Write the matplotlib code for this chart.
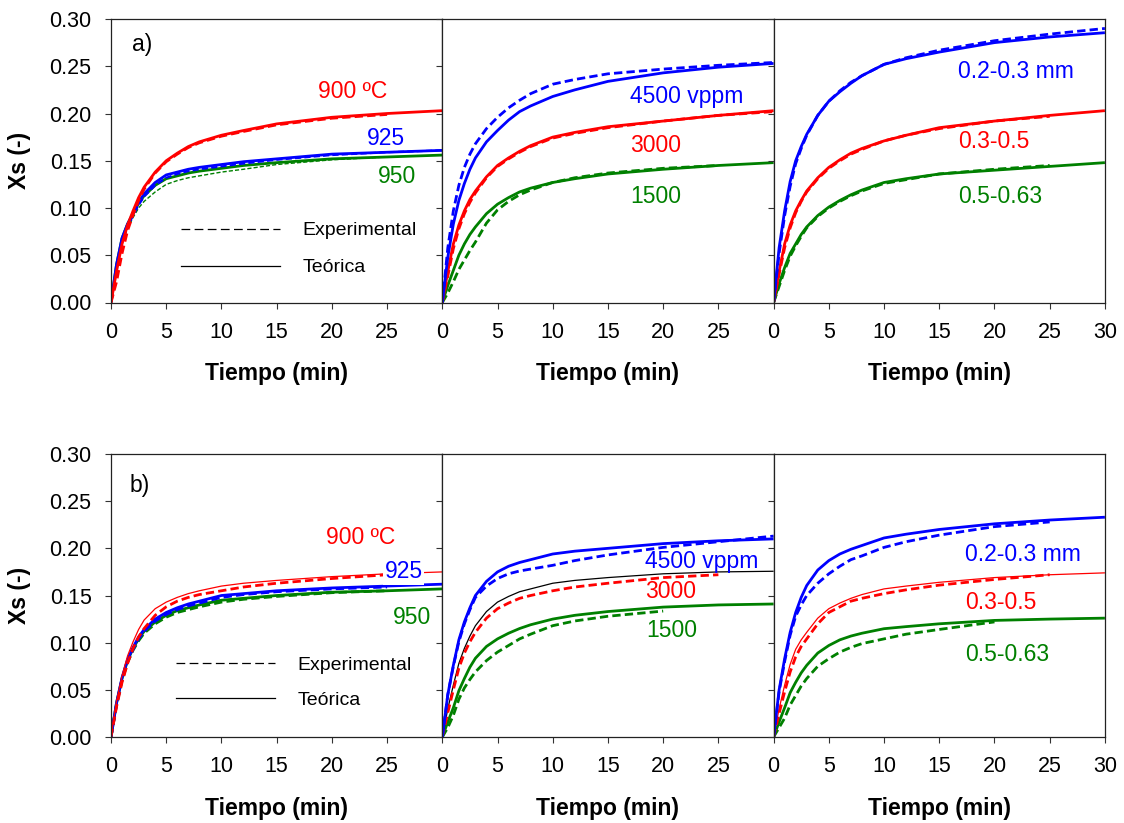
import numpy as np
import matplotlib
matplotlib.use("Agg")
import matplotlib.pyplot as plt
from matplotlib.lines import Line2D

plt.rcParams['font.family'] = ['Liberation Sans', 'DejaVu Sans']

nan = np.nan
tiempo = [0, 0.5, 1, 1.5, 2, 2.5, 3, 4, 5, 6, 7, 8, 10, 12, 15, 20, 25, 30]

# ---- a) temperatura
a_t900_teo = [0, .033, .062, .082, .097, .111, .122, .138, .150, .158, .165, .170, .177, .182, .189, .196, .200, .203]
a_t900_exp = [0, .022, .052, .076, .093, .108, .120, .137, .149, .157, .164, .169, .176, .181, .188, .195, .199, nan]
a_t925_teo = [0, .040, .068, .083, .094, .106, .115, .127, .135, .138, .141, .143, .146, .149, .152, .157, .159, .161]
a_t925_exp = [0, .035, .064, .080, .092, .103, .112, .124, .132, .136, .139, .141, .144, .147, .151, .156, .159, .161]
a_t950_teo = [0, .040, .068, .083, .094, .105, .113, .124, .131, .134, .137, .139, .142, .145, .148, .152, .154, .156]
a_t950_exp = [0, .036, .064, .078, .090, .100, .107, .117, .125, .129, .132, .134, .138, .141, .146, .151, .154, nan]

# ---- a) concentracion
a_c4500_teo = [0, .048, .083, .108, .126, .141, .153, .170, .182, .193, .202, .208, .218, .225, .234, .243, .249, .253]
a_c4500_exp = [0, .058, .097, .124, .143, .157, .168, .184, .196, .206, .214, .221, .231, .236, .242, .247, .251, .254]
a_c3000_teo = [0, .033, .062, .082, .097, .109, .118, .133, .145, .153, .160, .166, .175, .180, .186, .192, .198, .203]
a_c3000_exp = [0, .028, .057, .078, .094, .106, .116, .132, .144, .152, .159, .165, .174, .179, .185, .192, .198, .202]
a_c1500_teo = [0, .018, .034, .050, .062, .072, .080, .094, .104, .111, .117, .121, .127, .131, .136, .141, .145, .148]
a_c1500_exp = [0, .010, .022, .035, .045, .055, .064, .084, .098, .107, .114, .119, .127, .132, .137, .142, .145, nan]

# ---- a) tamano de particula
a_p02_teo = [0, .058, .097, .128, .150, .165, .178, .198, .213, .223, .232, .240, .252, .258, .265, .275, .281, .2855]
a_p02_exp = [0, .052, .092, .123, .147, .163, .177, .198, .213, .224, .233, .240, .252, .259, .267, .277, .284, .290]
a_p03_teo = [0, .033, .062, .082, .097, .108, .118, .132, .143, .151, .158, .163, .171, .177, .185, .192, .198, .203]
a_p03_exp = [0, .030, .058, .079, .095, .107, .117, .131, .142, .150, .157, .162, .171, .177, .184, .192, .197, nan]
a_p05_teo = [0, .020, .037, .052, .062, .072, .080, .092, .101, .108, .114, .119, .127, .131, .136, .140, .144, .148]
a_p05_exp = [0, .017, .034, .049, .060, .070, .079, .091, .100, .107, .113, .118, .126, .130, .136, .141, .145, nan]

# ---- b) temperatura
b_t900_teo = [0, .038, .065, .086, .101, .114, .124, .136, .143, .148, .152, .155, .160, .163, .166, .170, .173, .175]
b_t900_exp = [0, .032, .058, .078, .094, .106, .115, .129, .138, .144, .148, .151, .155, .159, .163, .168, .172, nan]
b_t925_teo = [0, .036, .063, .082, .095, .106, .114, .125, .132, .137, .141, .144, .150, .152, .155, .158, .160, .162]
b_t925_exp = [0, .034, .061, .080, .093, .104, .112, .123, .130, .135, .139, .142, .148, .151, .154, .157, .159, nan]
b_t950_teo = [0, .036, .062, .081, .094, .104, .112, .122, .129, .134, .137, .140, .145, .147, .150, .1535, .155, .157]
b_t950_exp = [0, .034, .060, .079, .092, .102, .110, .120, .127, .132, .135, .138, .143, .146, .149, .153, .155, nan]

# ---- b) concentracion
b_c4500_teo = [0, .045, .076, .103, .122, .137, .150, .165, .175, .181, .185, .188, .194, .197, .200, .205, .208, .210]
b_c4500_exp = [0, .045, .075, .101, .120, .135, .148, .160, .168, .173, .176, .178, .182, .187, .193, .201, .207, .213]
b_c3000_teo = [0, .030, .055, .078, .094, .107, .118, .133, .143, .149, .154, .157, .163, .166, .169, .173, .175, .1757]
b_c3000_exp = [0, .026, .050, .073, .089, .101, .111, .126, .136, .142, .147, .150, .155, .159, .163, .169, .172, nan]
b_c1500_teo = [0, .016, .031, .049, .062, .074, .0835, .096, .104, .110, .115, .119, .125, .129, .133, .1377, .140, .141]
b_c1500_exp = [0, .010, .023, .040, .052, .061, .069, .081, .090, .097, .104, .109, .118, .123, .128, .1335, nan, nan]

# ---- b) tamano de particula
b_p02_teo = [0, .050, .083, .111, .132, .148, .1606, .177, .187, .194, .199, .203, .211, .215, .220, .226, .230, .233]
b_p02_exp = [0, .048, .080, .108, .128, .140, .150, .163, .173, .181, .188, .192, .201, .207, .214, .223, .228, nan]
b_p03_teo = [0, .030, .055, .077, .093, .103, .111, .126, .136, .142, .147, .151, .157, .160, .164, .169, .172, .174]
b_p03_exp = [0, .025, .048, .069, .085, .096, .104, .120, .132, .138, .144, .147, .152, .156, .161, .167, .172, nan]
b_p05_teo = [0, .016, .031, .047, .058, .068, .076, .089, .097, .103, .107, .110, .1148, .117, .120, .1236, .125, .126]
b_p05_exp = [0, .010, .020, .034, .044, .054, .062, .075, .083, .090, .095, .099, .104, .109, .114, .122, nan, nan]

ROJO, AZUL, VERDE = '#ff0000', '#0000ff', '#008000'
DASH = (0, (3, 1.5))

W, H = 1124, 823
fig = plt.figure(figsize=(W / 100, H / 100), dpi=100)

x0, pw = 111, 331.3
filas = [(19, 302.5), (454, 737)]


def hacer_panel(fila, col):
    top, bot = filas[fila]
    ax = fig.add_axes([(x0 + col * pw) / W, (H - bot) / H, pw / W, (bot - top) / H])
    ax.set_xlim(0, 30)
    ax.set_ylim(0, 0.3)
    ax.set_xticks(range(0, 31 if col == 2 else 26, 5))
    ax.set_yticks(np.arange(0, 0.31, 0.05))
    ax.tick_params(direction='out', length=4, width=0.8, labelsize=15.5, pad=10, color='#333333')
    if col == 0:
        ax.set_yticklabels(['%.2f' % v for v in np.arange(0, 0.31, 0.05)])
        ax.set_ylabel('Xs (-)', fontsize=16.5, fontweight='bold', labelpad=13)
    else:
        ax.tick_params(axis='y', labelleft=False)
    ax.set_xlabel('Tiempo (min)', fontsize=16.5, fontweight='bold', labelpad=14)
    for s in ax.spines.values():
        s.set_linewidth(0.9)
        s.set_color('#222222')
    return ax


def curva(ax, y, color, dashed=False, lw=2.0):
    ax.plot(tiempo, y, color=color, lw=lw, ls=DASH if dashed else '-',
            solid_capstyle='butt')


def leyenda(ax, anchor, esp):
    h = [Line2D([], [], color='k', lw=0.9, ls=(0, (7, 3.5))),
         Line2D([], [], color='k', lw=0.9)]
    ax.legend(h, ['Experimental', 'Teórica'], frameon=False, loc='upper left',
              bbox_to_anchor=anchor, handlelength=5.1, fontsize=14,
              handletextpad=1.15, labelspacing=esp, borderpad=0, borderaxespad=0)


fs = 16.5

# ---------- fila a
ax = hacer_panel(0, 0)
curva(ax, a_t950_exp, VERDE, True, 1.0)
curva(ax, a_t950_teo, VERDE)
curva(ax, a_t925_teo, AZUL)
curva(ax, a_t925_exp, AZUL, True, 1.5)
curva(ax, a_t900_exp, ROJO, True)
curva(ax, a_t900_teo, ROJO)
ax.text(1.9, 0.2725, 'a)', fontsize=fs, va='center')
ax.text(18.75, 0.223, '900 ºC', color=ROJO, fontsize=fs, va='center')
ax.text(23.2, 0.174, '925', color=AZUL, fontsize=fs, va='center')
ax.text(24.2, 0.133, '950', color=VERDE, fontsize=fs, va='center')
leyenda(ax, (0.212, 0.285), 1.0)

ax = hacer_panel(0, 1)
curva(ax, a_c1500_teo, VERDE)
curva(ax, a_c1500_exp, VERDE, True)
curva(ax, a_c3000_teo, ROJO)
curva(ax, a_c3000_exp, ROJO, True)
curva(ax, a_c4500_teo, AZUL)
curva(ax, a_c4500_exp, AZUL, True)
ax.text(17.0, 0.2175, '4500 vppm', color=AZUL, fontsize=fs, va='center')
ax.text(17.0, 0.1666, '3000', color=ROJO, fontsize=fs, va='center')
ax.text(17.0, 0.112, '1500', color=VERDE, fontsize=fs, va='center')

ax = hacer_panel(0, 2)
curva(ax, a_p05_teo, VERDE)
curva(ax, a_p05_exp, VERDE, True)
curva(ax, a_p03_teo, ROJO)
curva(ax, a_p03_exp, ROJO, True)
curva(ax, a_p02_teo, AZUL)
curva(ax, a_p02_exp, AZUL, True)
ax.text(16.7, 0.244, '0.2-0.3 mm', color=AZUL, fontsize=fs, va='center')
ax.text(16.7, 0.170, '0.3-0.5', color=ROJO, fontsize=fs, va='center')
ax.text(16.7, 0.112, '0.5-0.63', color=VERDE, fontsize=fs, va='center')

# ---------- fila b
ax = hacer_panel(1, 0)
curva(ax, b_t950_exp, VERDE, True)
curva(ax, b_t950_teo, VERDE)
curva(ax, b_t925_exp, AZUL, True)
curva(ax, b_t925_teo, AZUL)
curva(ax, b_t900_teo, ROJO, lw=0.9)
curva(ax, b_t900_exp, ROJO, True)
ax.text(1.72, 0.267, 'b)', fontsize=fs, va='center')
ax.text(19.5, 0.211, '900 ºC', color=ROJO, fontsize=fs, va='center')
ax.text(24.8, 0.175, '925', color=AZUL, fontsize=fs, va='center',
        bbox=dict(facecolor='white', edgecolor='none', pad=1))
ax.text(25.5, 0.127, '950', color=VERDE, fontsize=fs, va='center')
leyenda(ax, (0.197, 0.285), 0.9)

ax = hacer_panel(1, 1)
curva(ax, b_c1500_teo, VERDE)
curva(ax, b_c1500_exp, VERDE, True)
curva(ax, b_c3000_teo, 'k', lw=0.9)
curva(ax, b_c3000_exp, ROJO, True)
curva(ax, b_c4500_teo, AZUL)
curva(ax, b_c4500_exp, AZUL, True)
ax.text(18.4, 0.186, '4500 vppm', color=AZUL, fontsize=fs, va='center')
ax.text(18.4, 0.154, '3000', color=ROJO, fontsize=fs, va='center')
ax.text(18.5, 0.113, '1500', color=VERDE, fontsize=fs, va='center')

ax = hacer_panel(1, 2)
curva(ax, b_p05_teo, VERDE)
curva(ax, b_p05_exp, VERDE, True)
curva(ax, b_p03_teo, ROJO, lw=0.9)
curva(ax, b_p03_exp, ROJO, True)
curva(ax, b_p02_teo, AZUL)
curva(ax, b_p02_exp, AZUL, True)
ax.text(17.3, 0.193, '0.2-0.3 mm', color=AZUL, fontsize=fs, va='center')
ax.text(17.3, 0.143, '0.3-0.5', color=ROJO, fontsize=fs, va='center')
ax.text(17.3, 0.087, '0.5-0.63', color=VERDE, fontsize=fs, va='center')

fig.savefig('out.png', dpi=100)
